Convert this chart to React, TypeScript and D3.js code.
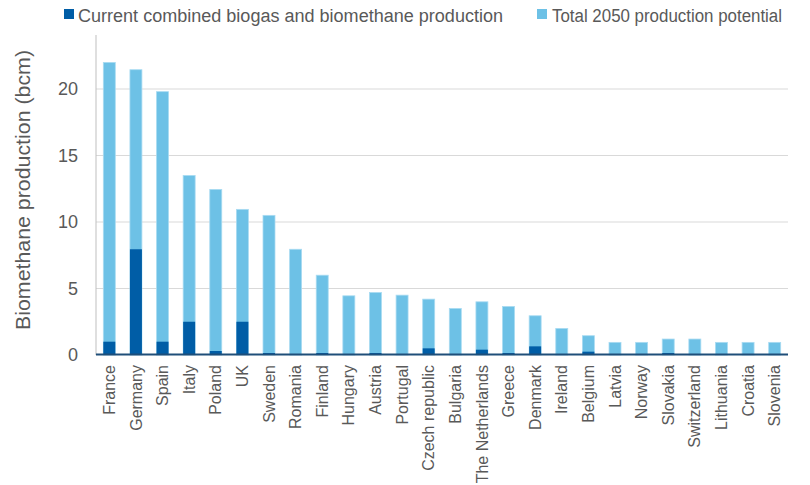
import React from "react";
import * as d3 from "d3";

const countries = ["France","Germany","Spain","Italy","Poland","UK","Sweden","Romania","Finland","Hungary","Austria","Portugal","Czech republic","Bulgaria","The Netherlands","Greece","Denmark","Ireland","Belgium","Latvia","Norway","Slovakia","Switzerland","Lithuania","Croatia","Slovenia"];
const total2050 = [22, 21.45, 19.8, 13.5, 12.45, 10.95, 10.5, 7.95, 6.0, 4.45, 4.7, 4.5, 4.2, 3.5, 4.0, 3.65, 2.95, 2.0, 1.45, 0.95, 0.95, 1.2, 1.2, 0.95, 0.95, 0.95];
const current = [1.0, 7.95, 1.0, 2.5, 0.3, 2.5, 0.15, 0.05, 0.15, 0.05, 0.15, 0.05, 0.5, 0.05, 0.4, 0.15, 0.65, 0.05, 0.25, 0.05, 0.05, 0.15, 0.05, 0.05, 0.05, 0.05];
const yTicks = [0, 5, 10, 15, 20];
const legendLabels = ["Current combined biogas and biomethane production", "Total 2050 production potential"];

const W = 810, H = 485;
const left = 96, right = 788, top = 35, bottom = 355;
const DARK = "#005DA6", LIGHT = "#6DC1E6";
const FONT = "'Liberation Sans', Arial, sans-serif";

export default function App() {
  const x = d3.scaleBand<string>().domain(countries).range([left, right]).paddingInner(0.55).paddingOuter(0.275);
  const y = d3.scaleLinear().domain([0, 20]).range([bottom, 89]);
  const bw = x.bandwidth();
  return (
    <svg width={W} height={H} style={{ position: "absolute", left: 0, top: 0, background: "#fff" }} fontFamily={FONT}>
      {/* legend */}
      <rect x={64} y={9} width={10} height={10} fill={DARK} />
      <text x={78} y={21.5} fontSize={18} fill="#595959" textLength={425} lengthAdjust="spacingAndGlyphs">{legendLabels[0]}</text>
      <rect x={537} y={9} width={10} height={10} fill={LIGHT} />
      <text x={552} y={21.5} fontSize={18} fill="#595959" textLength={230} lengthAdjust="spacingAndGlyphs">{legendLabels[1]}</text>
      {/* gridlines */}
      {yTicks.filter(t => t > 0).map(t => (
        <line key={t} x1={left} x2={right} y1={y(t)} y2={y(t)} stroke="#D9D9D9" strokeWidth={1.2} />
      ))}
      <line x1={left} x2={left} y1={top} y2={bottom} stroke="#BFBFBF" strokeWidth={1} />
      {yTicks.map(t => (
        <text key={t} x={78} y={y(t)} dy="0.35em" textAnchor="end" fontSize={18} fill="#595959">{t}</text>
      ))}
      <text transform="translate(30,190) rotate(-90)" textAnchor="middle" fontSize={20} fill="#595959" textLength={280} lengthAdjust="spacingAndGlyphs">Biomethane production (bcm)</text>
      {/* bars */}
      {countries.map((c, i) => (
        <g key={c}>
          <rect x={x(c)} y={y(total2050[i])} width={bw} height={y(0) - y(total2050[i])} fill={LIGHT} stroke="#A9DBF2" strokeWidth={0.8} />
          <rect x={x(c)} y={y(current[i])} width={bw} height={y(0) - y(current[i])} fill={DARK} />
        </g>
      ))}
      <line x1={left} x2={right} y1={bottom - 0.5} y2={bottom - 0.5} stroke="#1F4E79" strokeWidth={2} />
      {/* x labels */}
      {countries.map(c => (
        <text key={c} transform={`translate(${(x(c) as number) + bw / 2},365) rotate(-90)`} dy="0.35em" textAnchor="end" fontSize={16} fill="#595959">{c}</text>
      ))}
    </svg>
  );
}
